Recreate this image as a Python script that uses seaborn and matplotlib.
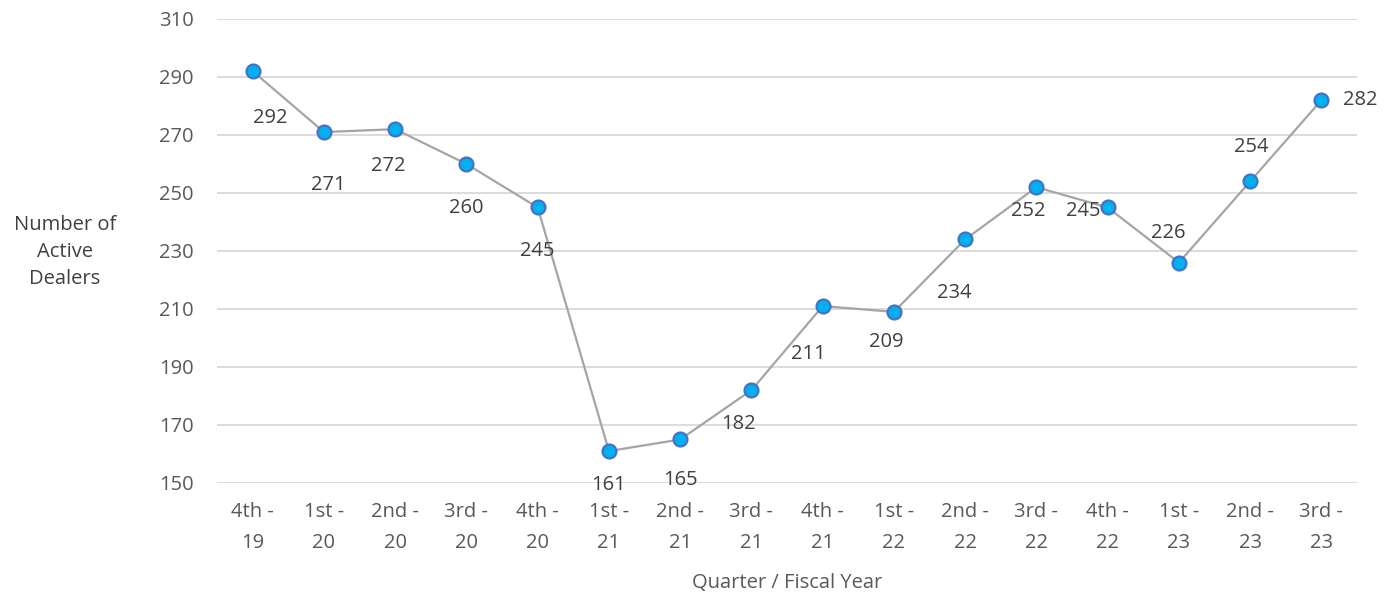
import pandas as pd
import matplotlib.pyplot as plt
import seaborn as sns

quarters = ['4th -\n19', '1st -\n20', '2nd -\n20', '3rd -\n20', '4th -\n20',
            '1st -\n21', '2nd -\n21', '3rd -\n21', '4th -\n21', '1st -\n22',
            '2nd -\n22', '3rd -\n22', '4th -\n22', '1st -\n23', '2nd -\n23',
            '3rd -\n23']
dealers = [292, 271, 272, 260, 245, 161, 165, 182, 211, 209, 234, 252, 245, 226, 254, 282]
y_ticks = [150, 170, 190, 210, 230, 250, 270, 290, 310]

# label offsets in pixels (Excel-style placement)
label_offsets = [(18, -47), (4, -53), (-7, -37), (0, -44), (0, -44),
                 (0, -34), (0, -41), (-13, -34), (-14, -48), (-8, -30),
                 (-11, -54), (-8, -24), (-24, -4), (-11, 30), (1, 34), (39, 0)]

df = pd.DataFrame({'quarter': quarters, 'dealers': dealers})

sns.set_theme(style='white')
plt.rcParams['font.family'] = ['Open Sans', 'DejaVu Sans']

fig = plt.figure(figsize=(13.95, 6.1), dpi=100)
ax = fig.add_axes([0.1556, 0.2082, 0.8172, 0.7607])

sns.lineplot(data=df, x='quarter', y='dealers', sort=False, ax=ax,
             color='#A5A5A5', linewidth=1.6, marker='o', markersize=10,
             markerfacecolor='#00B0F0', markeredgecolor='#4472C4',
             markeredgewidth=1.6, zorder=3)

for i, (v, off) in enumerate(zip(dealers, label_offsets)):
    ax.annotate(str(v), (i, v), xytext=off, textcoords='offset pixels',
                ha='center', va='center', fontsize=14.5, color='#404040')

ax.set_xlim(-0.5, len(quarters) - 0.5)
ax.set_ylim(150, 310)
ax.set_yticks(y_ticks)
ax.yaxis.grid(True, color='#D9D9D9', linewidth=1.3)
ax.xaxis.grid(False)
for s in ax.spines.values():
    s.set_visible(False)
ax.tick_params(axis='both', length=0, labelsize=14.5, labelcolor='#595959')
ax.tick_params(axis='x', pad=14)
ax.tick_params(axis='y', pad=17)
for t in ax.get_xticklabels():
    t.set_linespacing(1.7)

ax.set_xlabel('')
ax.set_ylabel('')
fig.text(65 / 1395, 1 - 252 / 610, 'Number of\nActive\nDealers', ha='center', va='center',
         fontsize=14.5, color='#404040', linespacing=1.5)
fig.text(787 / 1395, 1 - 583 / 610, 'Quarter / Fiscal Year', ha='center', va='center',
         fontsize=14.5, color='#595959')

fig.savefig('out.png', dpi=100)
